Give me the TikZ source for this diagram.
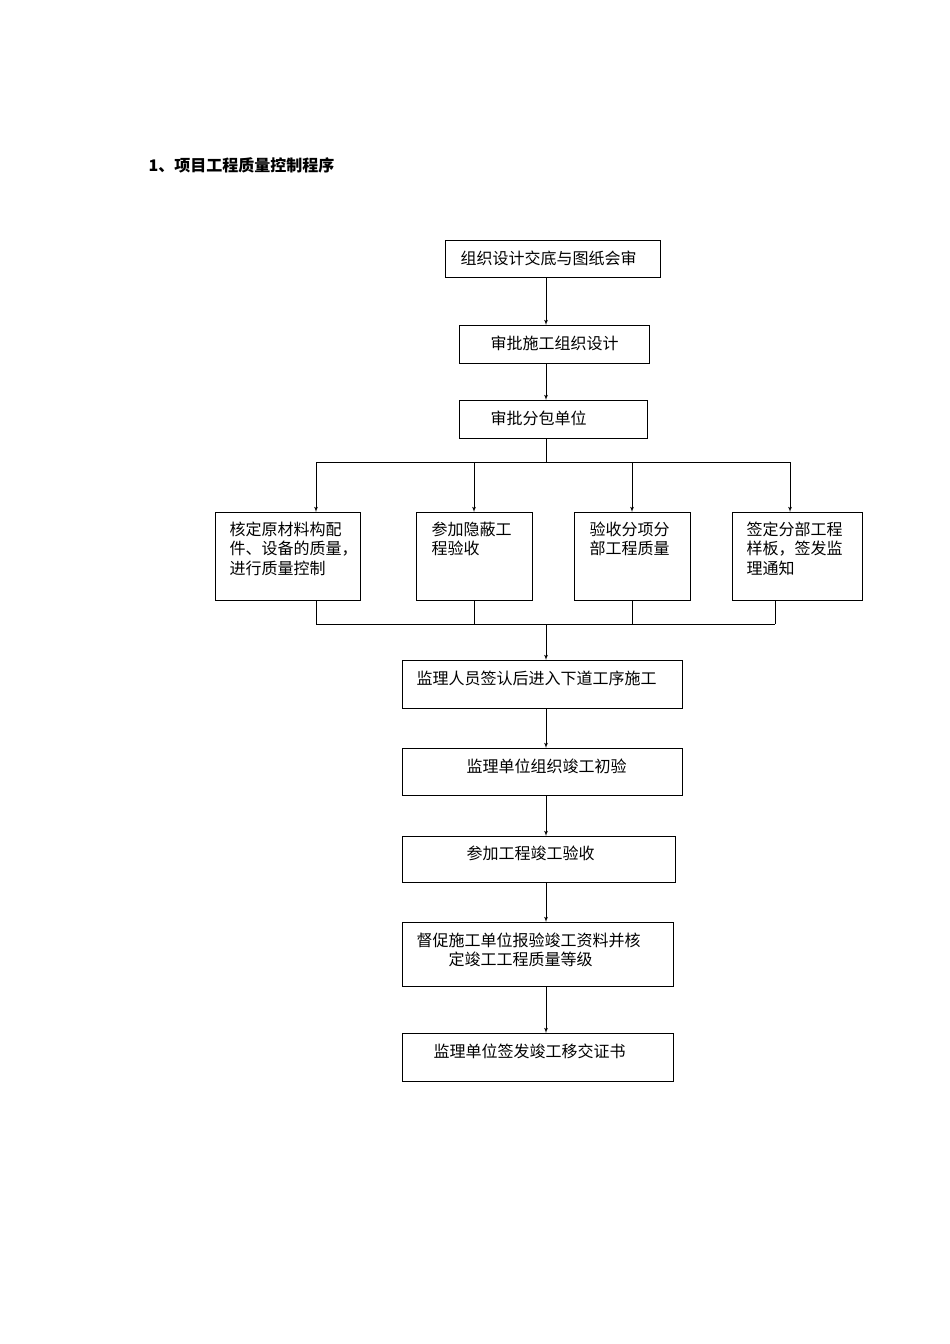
\documentclass[tikz,border=0pt]{standalone}
\usepackage{fontspec}
\setmainfont{Noto Sans CJK SC}
\usetikzlibrary{arrows, positioning}

\tikzset{
  box/.style   = {draw, rectangle, anchor=north west, inner sep=0pt, align=left},
  flow/.style  = {draw, -latex', line width=0.8pt},
  plain/.style = {draw, line width=0.8pt}
}
\newcommand{\boxtxt}[4]{\parbox[t][#2pt][t]{#1pt}{\hspace*{#3pt}\parbox[t]{\dimexpr#1pt-#3pt\relax}{\vspace*{#4pt}\raggedright #1}}}
\newcommand{\cell}[4]{\parbox[b][#2pt][t]{#1pt}{\vspace*{#4pt}\leftskip=#3pt\relax\noindent\ignorespaces}}

\begin{document}
\begin{tikzpicture}[x=1pt, y=-1pt, line width=0.8pt, font=\fontsize{16}{19.5}\selectfont]
\useasboundingbox (0,0) rectangle (950,1344);

\node [anchor=west, font=\fontsize{16}{19}\selectfont\bfseries] (title) at (145,165) {1、项目工程质量控制程序};

% main column
\node [box, minimum width=215pt, minimum height=37pt] (design)  at (445,240)  {};
\node [anchor=west] at (457,258.5)  {组织设计交底与图纸会审};
\node [box, minimum width=190pt, minimum height=38pt] (approve) at (459,325)  {};
\node [anchor=west] at (487,343)    {审批施工组织设计};
\node [box, minimum width=188pt, minimum height=38pt] (sub)     at (459,400)  {};
\node [anchor=west] at (487,418)    {审批分包单位};

% four checks
\node [box, minimum width=145pt, minimum height=88pt] (mat)   at (215,512) {};
\node [anchor=north west, align=left] at (226,518) {核定原材料构配\\件、设备的质量，\\进行质量控制};
\node [box, minimum width=116pt, minimum height=88pt] (hide)  at (416,512) {};
\node [anchor=north west, align=left] at (428,518) {参加隐蔽工\\程验收};
\node [box, minimum width=116pt, minimum height=88pt] (part)  at (574,512) {};
\node [anchor=north west, align=left] at (586,518) {验收分项分\\部工程质量};
\node [box, minimum width=130pt, minimum height=88pt] (model) at (732,512) {};
\node [anchor=north west, align=left] at (743,518) {签定分部工程\\样板，签发监\\理通知};

% lower column
\node [box, minimum width=280pt, minimum height=48pt] (sign)   at (402,660)  {};
\node [anchor=west] at (413,678)  {监理人员签认后进入下道工序施工};
\node [box, minimum width=280pt, minimum height=47pt] (pre)    at (402,748)  {};
\node [anchor=west] at (463,766)  {监理单位组织竣工初验};
\node [box, minimum width=273pt, minimum height=46pt] (accept) at (402,836)  {};
\node [anchor=west] at (463,853)  {参加工程竣工验收};
\node [box, minimum width=271pt, minimum height=64pt] (urge)   at (402,922)  {};
\node [anchor=north west, align=left] at (413,929) {督促施工单位报验竣工资料并核\\\hspace*{32pt}定竣工工程质量等级};
\node [box, minimum width=271pt, minimum height=48pt] (cert)   at (402,1033) {};
\node [anchor=west] at (430,1051) {监理单位签发竣工移交证书};

% junction points
\coordinate (split) at (546,462);
\coordinate (join)  at (546,624);

\path [flow] (546,277) -- (546,325);
\path [flow] (546,363) -- (546,400);
\path [plain] (546,438) -- (split);
\path [plain] (316,462) -- (790,462);
\path [flow] (316,462) -- (mat.north -| 316,0);
\path [flow] (474,462) -- (474,512);
\path [flow] (632,462) -- (632,512);
\path [flow] (790,462) -- (790,512);

\path [plain] (316,600) -- (316,624);
\path [plain] (474,600) -- (474,624);
\path [plain] (632,600) -- (632,624);
\path [plain] (775,600) -- (775,624);
\path [plain] (316,624) -- (775,624);
\path [flow] (join) -- (546,660);

\path [flow] (546,708) -- (546,748);
\path [flow] (546,795) -- (546,836);
\path [flow] (546,882) -- (546,922);
\path [flow] (546,986) -- (546,1033);

\end{tikzpicture}
\end{document}
